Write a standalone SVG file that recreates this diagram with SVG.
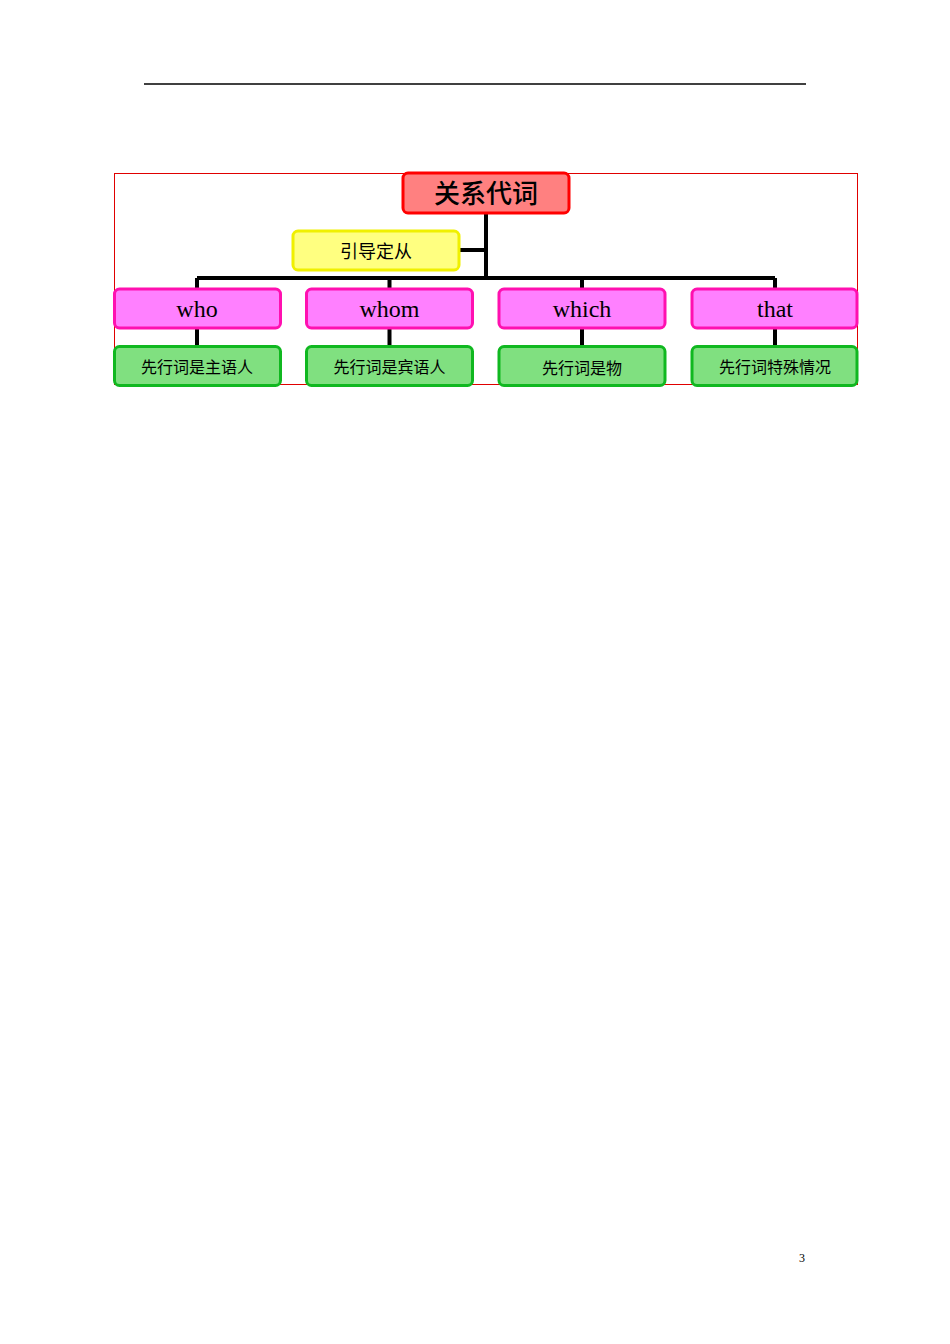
<svg xmlns="http://www.w3.org/2000/svg" width="950" height="1344" viewBox="0 0 950 1344">
<style>
.root{fill:#ff8080;stroke:#ff0000;stroke-width:3}
.yel{fill:#ffff80;stroke:#f0f000;stroke-width:3}
.pink{fill:#ff80ff;stroke:#ff10b0;stroke-width:3}
.green{fill:#80e080;stroke:#10b820;stroke-width:3}
.en{font-family:"Liberation Serif","Times New Roman",serif;font-size:24px;fill:#000;text-anchor:middle}
.cn{font-family:"Liberation Serif","Noto Sans CJK SC",serif;font-size:16px;fill:#000;text-anchor:middle}
.conn{stroke:#000;stroke-width:4;fill:none}
</style>
<rect width="950" height="1344" fill="#fff"/>
<line x1="144" y1="84" x2="806" y2="84" stroke="#000" stroke-width="1.3"/>
<rect x="114.5" y="173.5" width="743" height="211" fill="none" stroke="#e00000" stroke-width="1"/>
<g id="connectors">
<path class="conn" d="M486 213V278M460 250H486M197 278H775M197 278V289M389.5 278V289M582 278V289M775 278V289"/>
<path class="conn" d="M197 328V346M389.5 328V346M582 328V346M775 328V346"/>
</g>
<g id="root"><rect class="root" x="403" y="173" width="166" height="40" rx="5"/><text x="486" y="203" font-family="Noto Sans CJK SC,sans-serif" font-size="26" font-weight="500" text-anchor="middle">关系代词</text></g>
<g id="yindao"><rect class="yel" x="293" y="231" width="166" height="39" rx="5"/><text x="376" y="258" font-family="Noto Sans CJK SC,sans-serif" font-size="18" text-anchor="middle">引导定从</text></g>
<g id="who"><rect class="pink" x="114.5" y="289" width="166" height="39" rx="5"/><text class="en" x="197" y="317">who</text></g>
<g id="whom"><rect class="pink" x="306.5" y="289" width="166" height="39" rx="5"/><text class="en" x="389.5" y="317">whom</text></g>
<g id="which"><rect class="pink" x="499" y="289" width="166" height="39" rx="5"/><text class="en" x="582" y="317">which</text></g>
<g id="that"><rect class="pink" x="692" y="289" width="165" height="39" rx="5"/><text class="en" x="775" y="317">that</text></g>
<g id="g1"><rect class="green" x="114.5" y="346.5" width="166" height="39" rx="5"/><text class="cn" x="197" y="373">先行词是主语人</text></g>
<g id="g2"><rect class="green" x="306.5" y="346.5" width="166" height="39" rx="5"/><text class="cn" x="389.5" y="373">先行词是宾语人</text></g>
<g id="g3"><rect class="green" x="499" y="346.5" width="166" height="39" rx="5"/><text class="cn" x="582" y="374" font-size="18">先行词是物</text></g>
<g id="g4"><rect class="green" x="692" y="346.5" width="165" height="39" rx="5"/><text class="cn" x="775" y="373">先行词特殊情况</text></g>
<text x="802" y="1262" font-family="Liberation Serif,serif" font-size="12" text-anchor="middle">3</text>
</svg>
